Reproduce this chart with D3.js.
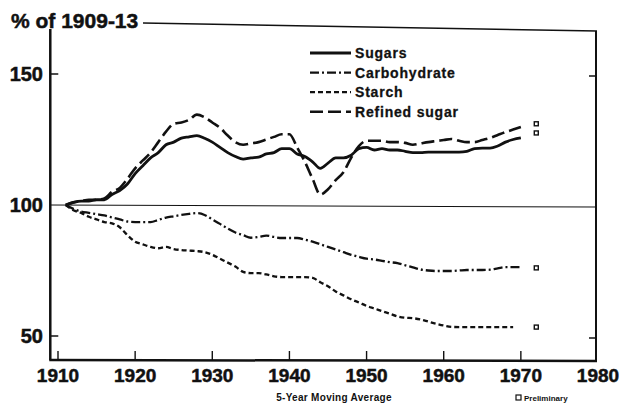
<!DOCTYPE html>
<html>
<head>
<meta charset="utf-8">
<script src="https://cdn.jsdelivr.net/npm/d3@7"></script>
<style>
  body { margin: 0; background: #fff; }
  text { font-family: "Liberation Sans", Arial, sans-serif; font-weight: bold; fill: #111; }
  .heavy { stroke: #111; stroke-width: 0.5; }
</style>
</head>
<body>
<svg id="chart" width="623" height="407"></svg>
<script>
// 5-year moving averages, % of 1909-13, centered years 1911..1970
var startYear = 1911
var sugars = [100, 101, 101.5, 101.5, 102, 102, 104, 105.5, 108, 112,
  115, 118, 120, 123, 124, 125.5, 126, 126.5, 125.5, 124,
  122, 120, 118.5, 117.5, 118, 118.3, 119.5, 120, 121.5, 121.5,
  119.5, 118.5, 116.5, 114, 116, 118, 118, 119, 121.5, 122,
  121, 121.5, 121, 121, 120.5, 120, 120, 120.2, 120.2, 120.2,
  120.2, 120.2, 120.5, 121.5, 121.7, 121.7, 122.5, 124, 125, 125.6]
var carbohydrate = [100, 98.5, 97.5, 97, 96.5, 96, 95.2, 94.5, 93.7, 93.5,
  93.5, 93.5, 94.3, 95.2, 95.7, 96.2, 96.6, 96.9, 96.2, 94.5,
  92.8, 91, 89.5, 88.5, 87.5, 87.8, 88.3, 87.8, 87.4, 87.4,
  87.4, 86.8, 86, 85, 84, 83, 82, 81, 80.2, 79.5,
  79.2, 78.7, 78.2, 77.8, 77, 76.2, 75.4, 75, 74.8, 74.8,
  74.8, 75, 75.2, 75.2, 75.2, 75.3, 75.8, 76.3, 76.3, 76.3]
var starch = [100, 98, 97, 95.5, 94.5, 93.5, 93, 91.5, 88.5, 86,
  85, 84, 83.5, 84, 83.2, 82.8, 82.6, 82.4, 82, 81,
  79.5, 78, 76.5, 74.5, 74, 74, 73.5, 72.8, 72.5, 72.5,
  72.5, 72.5, 72.2, 70.5, 69, 67, 65.5, 64, 62.8, 61.5,
  60.5, 59.5, 58.5, 57.5, 57, 56.8, 56.3, 55.5, 54.7, 54,
  53.5, 53.4, 53.4, 53.4, 53.4, 53.4, 53.4, 53.4, 53.4]
var refinedSugar = [100, 101, 101.5, 102, 102, 102.5, 105, 106.5, 110, 114,
  117, 120, 124, 128, 131, 131.5, 132.5, 134.5, 133.5, 131.5,
  129.5, 126.5, 124, 123, 123.5, 124, 125, 126, 127, 127,
  122, 116.5, 110, 104, 106, 109.5, 112.5, 118, 122.5, 124.5,
  124.5, 124.5, 124, 124, 123.7, 123, 123.5, 124, 124.4, 124.8,
  125.2, 124.5, 124, 124, 124.8, 125.6, 126.7, 127.8, 128.8, 129.8]
// preliminary 1972 points
var prelimYear = 1972
var prelim = [131, 127.5, 76, 53.4]

var seriesNames = ['Sugars', 'Carbohydrate', 'Starch', 'Refined sugar']
var seriesData = [sugars, carbohydrate, starch, refinedSugar]
var dashes = ['none', '9,3,2,3', '5,3', '13,5']
var widths = [2.8, 2.3, 2.3, 2.6]

var xTicks = [1910, 1920, 1930, 1940, 1950, 1960, 1970, 1980]
var yTicks = [50, 100, 150]

var svg = d3.select('#chart')
var x = d3.scaleLinear().domain([1910, 1980]).range([58, 598])
var y = d3.scaleLinear().domain([50, 150]).range([336, 74])

var left = x(1909), right = 596, bottom = 360

// frame
svg.append('line').attr('x1', left).attr('x2', left).attr('y1', 29).attr('y2', bottom)
  .attr('stroke', '#111').attr('stroke-width', 2.5)
svg.append('line').attr('x1', left - 1).attr('x2', right + 1).attr('y1', bottom).attr('y2', bottom + 1)
  .attr('stroke', '#111').attr('stroke-width', 2.5)
svg.append('line').attr('x1', right).attr('x2', right).attr('y1', 31).attr('y2', bottom + 1)
  .attr('stroke', '#111').attr('stroke-width', 2)
svg.append('line').attr('x1', 143).attr('x2', right + 1).attr('y1', 23).attr('y2', 31)
  .attr('stroke', '#111').attr('stroke-width', 1.6)

svg.append('text').attr('class', 'heavy').attr('x', 11).attr('y', 28).attr('font-size', 21).text('% of 1909-13')

// y ticks
yTicks.forEach(function(v) {
  svg.append('text').attr('class', 'heavy').attr('x', 43).attr('y', y(v) + 7).attr('text-anchor', 'end')
    .attr('font-size', 20).text(v)
  if (v != 100) {
    svg.append('line').attr('x1', left).attr('x2', left + 8).attr('y1', y(v)).attr('y2', y(v))
      .attr('stroke', '#111').attr('stroke-width', 1.5)
    svg.append('line').attr('x1', right - 7).attr('x2', right).attr('y1', y(v) + 2).attr('y2', y(v) + 2)
      .attr('stroke', '#111').attr('stroke-width', 1.5)
  }
})
// reference line at 100
svg.append('line').attr('x1', left).attr('x2', right).attr('y1', y(100)).attr('y2', y(100) + 2)
  .attr('stroke', '#111').attr('stroke-width', 1.1)

// x ticks
xTicks.forEach(function(t) {
  if (t < 1980) {
    svg.append('line').attr('x1', x(t)).attr('x2', x(t)).attr('y1', bottom - 9).attr('y2', bottom)
      .attr('stroke', '#111').attr('stroke-width', 1.4)
  }
  svg.append('text').attr('class', 'heavy').attr('x', x(t)).attr('y', 382).attr('text-anchor', 'middle')
    .attr('font-size', 19).text(t)
})

// series
var line = d3.line()
  .x(function(d, i) { return x(startYear + i) })
  .y(function(d) { return y(d) })
  .curve(d3.curveMonotoneX)

seriesData.forEach(function(s, k) {
  svg.append('path').datum(s).attr('d', line)
    .attr('fill', 'none').attr('stroke', '#111')
    .attr('stroke-width', widths[k])
    .attr('stroke-dasharray', dashes[k])
    .attr('stroke-linejoin', 'round')
})

prelim.forEach(function(v) {
  svg.append('rect').attr('x', x(prelimYear) - 2).attr('y', y(v) - 2)
    .attr('width', 4).attr('height', 4)
    .attr('fill', '#fff').attr('stroke', '#111').attr('stroke-width', 1.4)
})

// legend
seriesNames.forEach(function(n, k) {
  var ly = 53 + k * 19.6
  svg.append('line').attr('x1', 310).attr('x2', 351).attr('y1', ly).attr('y2', ly)
    .attr('stroke', '#111').attr('stroke-width', widths[k])
    .attr('stroke-dasharray', dashes[k])
  svg.append('text').attr('class', 'heavy').attr('x', 355).attr('y', ly + 5).attr('font-size', 14)
    .style('stroke-width', 0.3).attr('letter-spacing', 0.8).text(n)
})

// captions
svg.append('text').attr('x', 334).attr('y', 401).attr('text-anchor', 'middle')
  .attr('font-size', 10).attr('letter-spacing', 0.3).text('5-Year Moving Average')
svg.append('rect').attr('x', 516).attr('y', 395).attr('width', 5).attr('height', 5)
  .attr('fill', 'none').attr('stroke', '#111').attr('stroke-width', 1.2)
svg.append('text').attr('x', 524).attr('y', 401).attr('font-size', 8).text('Preliminary')
</script>
</body>
</html>
